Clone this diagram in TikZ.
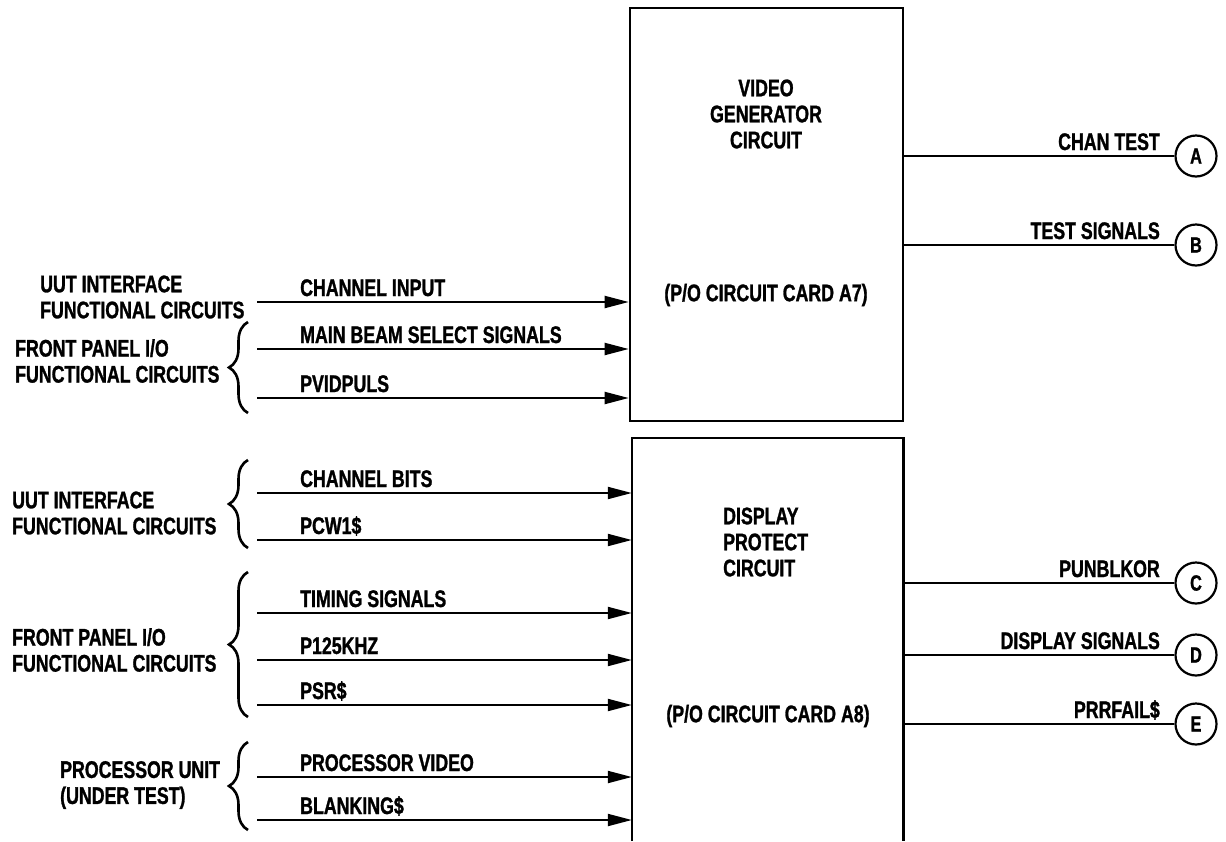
\documentclass[tikz,border=0pt]{standalone}
\usepackage{fontspec}
\setmainfont{Liberation Sans}[FakeStretch=0.74,FakeBold=1.2]
\usetikzlibrary{arrows.meta,decorations.pathreplacing}
\begin{document}
\begin{tikzpicture}[x=1pt,y=-1pt,
  lbl/.style={font=\fontsize{24}{26}\selectfont\bfseries, inner sep=0pt},
  grp/.style={lbl, align=left, anchor=west},
  boxst/.style={draw, line width=2.6pt, inner sep=0pt},
  sig/.style={line width=2pt, -{Triangle[length=24pt,width=12pt]}},
  outl/.style={line width=2pt},
  term/.style={draw, circle, line width=2.2pt, minimum size=41pt, inner sep=0pt, font=\fontsize{22}{22}\selectfont\bfseries},
  brc/.style={decorate, decoration={brace, amplitude=19pt}, line width=2.6pt}
]
\useasboundingbox (0,0) rectangle (1226,841);

% boxes
\node[boxst, minimum width=273pt, minimum height=413pt] (a7) at (766.5,214.5) {};
\node[inner sep=0pt, minimum width=271pt, minimum height=403pt] (a8) at (767.5,639.5) {};
\draw[line width=2.6pt] (a8.south west) -- (a8.north west) -- (a8.north east) -- (a8.south east);

\node[lbl, align=center] (a7t) at (766,114) {VIDEO\\GENERATOR\\CIRCUIT};
\node[lbl] (a7c) at (766,295) {(P/O CIRCUIT CARD A7)};
\node[lbl, align=left, anchor=west] (a8t) at (723,542) {DISPLAY\\PROTECT\\CIRCUIT};
\node[lbl] (a8c) at (768,716) {(P/O CIRCUIT CARD A8)};

% inputs to A7
\foreach \nm/\yy/\txt in {ci/302/CHANNEL INPUT, mb/349/MAIN BEAM SELECT SIGNALS, pv/398/PVIDPULS}{
  \coordinate (\nm) at (257,\yy);
  \draw[sig] (\nm) -- (\nm -| a7.west);
  \node[lbl, anchor=base west] (\nm t) at (300,\yy-6) {\txt};
}
% inputs to A8
\foreach \nm/\yy/\txt in {cb/493/CHANNEL BITS, pc/540/PCW1\$, ts/613/TIMING SIGNALS, pk/660/P125KHZ, ps/705/PSR\$, pr/777/PROCESSOR VIDEO, bl/820/BLANKING\$}{
  \coordinate (\nm) at (257,\yy);
  \draw[sig] (\nm) -- (\nm -| a8.west);
  \node[lbl, anchor=base west] (\nm t) at (300,\yy-6) {\txt};
}

% outputs
\foreach \nm/\src/\yy/\txt/\lt in {oa/a7/156/CHAN TEST/A, ob/a7/245/TEST SIGNALS/B, oc/a8/583/PUNBLKOR/C, od/a8/655/DISPLAY SIGNALS/D, oe/a8/724/PRRFAIL\$/E}{
  \node[term] (\nm) at (1196,\yy) {\lt};
  \draw[outl] (\nm.west -| \src.east) -- (\nm.west);
  \node[lbl, anchor=base east] (\nm t) at (1160,\yy-6) {\txt};
}

% left group labels
\node[grp] (g1) at (40,297) {UUT INTERFACE\\FUNCTIONAL CIRCUITS};
\node[grp] (g2) at (15,361) {FRONT PANEL I/O\\FUNCTIONAL CIRCUITS};
\node[grp] (g3) at (12,513) {UUT INTERFACE\\FUNCTIONAL CIRCUITS};
\node[grp] (g4) at (12,650) {FRONT PANEL I/O\\FUNCTIONAL CIRCUITS};
\node[grp] (g5) at (60,785) {PROCESSOR UNIT\\(UNDER TEST)};

% braces
\draw[brc] (248,413) -- (248,322);
\draw[brc] (248,548) -- (248,460);
\draw[brc] (248,717) -- (248,572);
\draw[brc] (248,830) -- (248,742);
\end{tikzpicture}
\end{document}
